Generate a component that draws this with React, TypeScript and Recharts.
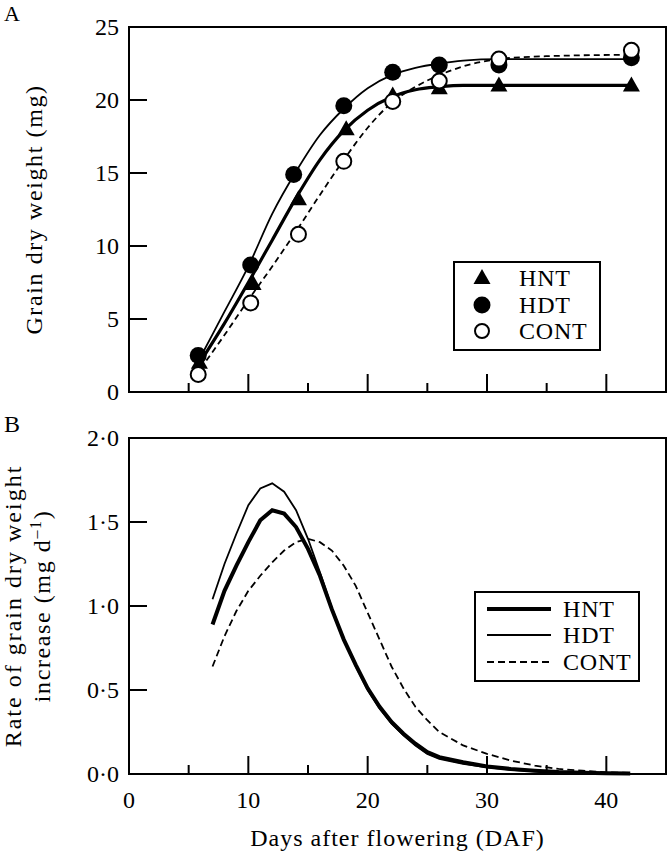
import {
  ComposedChart,
  Line,
  Scatter,
  XAxis,
  YAxis,
  ReferenceArea,
  Legend
} from 'recharts'

// Panel A: sampled grain dry weight (mg)
const daysHNT = [5.9, 10.4, 14.2, 18.2, 22.1, 26, 31, 42.1]
const weightHNT = [2.0, 7.4, 13.2, 18.0, 20.3, 20.8, 21.0, 21.0]
const daysHDT = [5.8, 10.2, 13.8, 18.0, 22.1, 26, 31, 42.1]
const weightHDT = [2.5, 8.7, 14.9, 19.6, 21.9, 22.4, 22.4, 22.9]
const daysCONT = [5.8, 10.2, 14.2, 18.0, 22.1, 26, 31, 42.1]
const weightCONT = [1.2, 6.1, 10.8, 15.8, 19.9, 21.3, 22.8, 23.4]

// Panel A: fitted curves
const fitDays = [6, 8, 10, 12, 14, 16, 18, 20, 22, 24, 26, 28, 31, 35, 42]
const fitHNT = [2.1, 4.7, 7.5, 10.4, 13.3, 15.9, 17.9, 19.3, 20.2, 20.7, 20.9, 21.0, 21.0, 21.0, 21.0]
const fitHDT = [2.4, 5.5, 8.6, 12.2, 15.1, 17.6, 19.4, 20.8, 21.7, 22.2, 22.5, 22.7, 22.8, 22.8, 22.8]
const fitCONT = [1.6, 3.9, 6.3, 8.6, 11.0, 13.5, 15.9, 18.1, 19.8, 20.9, 21.7, 22.3, 22.8, 23.0, 23.1]

// Panel B: rate of grain dry weight increase (mg d-1)
const rateDays = [7, 8, 9, 10, 11, 12, 13, 14, 15, 16, 17, 18, 19, 20, 21, 22, 23, 24, 25, 26, 28, 30, 32, 34, 36, 38, 40, 42]
const rateHNT = [0.89, 1.09, 1.24, 1.38, 1.51, 1.57, 1.55, 1.47, 1.34, 1.18, 0.98, 0.8, 0.65, 0.51, 0.4, 0.31, 0.24, 0.18, 0.13, 0.1, 0.07, 0.045, 0.03, 0.02, 0.012, 0.008, 0.005, 0.003]
const rateHDT = [1.04, 1.25, 1.43, 1.6, 1.7, 1.73, 1.68, 1.57, 1.4, 1.2, 0.99, 0.8, 0.64, 0.5, 0.39, 0.3, 0.23, 0.17, 0.12, 0.09, 0.06, 0.04, 0.025, 0.016, 0.01, 0.006, 0.004, 0.002]
const rateCONT = [0.64, 0.82, 0.97, 1.09, 1.18, 1.26, 1.33, 1.38, 1.4, 1.38, 1.33, 1.24, 1.12, 0.96, 0.8, 0.64, 0.51, 0.4, 0.32, 0.25, 0.17, 0.12, 0.08, 0.05, 0.03, 0.02, 0.01, 0.006]

const xTicks = [0, 5, 10, 15, 20, 25, 30, 35, 40]
const weightTicks = [0, 5, 10, 15, 20, 25]
const rateTicks = [0, 0.5, 1, 1.5, 2]

const FONT = '"Liberation Serif", "DejaVu Serif", serif'
const FS = 24

const pairs = (xs: number[], ys: number[]) => xs.map((x, i) => ({ x, y: ys[i] }))

const XTick = ({ x, y, payload, showLabel }: any) => {
  const v = payload.value
  const major = v % 10 === 0
  return (
    <g>
      {v !== 0 && <line x1={x} x2={x} y1={y} y2={y - (major ? 18 : 9)} stroke="#000" strokeWidth={2} />}
      {showLabel && major && (
        <text x={x} y={y + 34} textAnchor="middle" fontFamily={FONT} fontSize={FS} fill="#000">{v}</text>
      )}
    </g>
  )
}

const YTick = ({ x, y, payload, dot }: any) => {
  const v = payload.value
  const label = dot ? v.toFixed(1).replace('.', '·') : String(v)
  return (
    <g>
      {v !== 0 && <line x1={x} x2={x + 18} y1={y} y2={y} stroke="#000" strokeWidth={2} />}
      <text x={x - 10} y={y} dy="0.35em" textAnchor="end" fontFamily={FONT} fontSize={FS} fill="#000">{label}</text>
    </g>
  )
}

const Triangle = ({ cx, cy }: any) => (
  <polygon points={`${cx},${cy - 9} ${cx - 8.5},${cy + 6} ${cx + 8.5},${cy + 6}`} fill="#000" />
)
const FilledDot = ({ cx, cy }: any) => <circle cx={cx} cy={cy} r={8.5} fill="#000" />
const OpenDot = ({ cx, cy }: any) => <circle cx={cx} cy={cy} r={7.5} fill="#fff" stroke="#000" strokeWidth={2} />

const legendA = () => (
  <svg width={148} height={90} style={{ display: 'block' }}>
    <rect x={1} y={1} width={146} height={88} fill="#fff" stroke="#000" strokeWidth={2} />
    <polygon points="29,8 20.5,23 37.5,23" fill="#000" />
    <circle cx={29} cy={44} r={8.5} fill="#000" />
    <circle cx={29} cy={70} r={7} fill="#fff" stroke="#000" strokeWidth={2} />
    {['HNT', 'HDT', 'CONT'].map((t, i) => (
      <text key={t} x={66} y={[17, 44, 70][i]} dy="0.35em" fontFamily={FONT} fontSize={FS} letterSpacing={0.8} fill="#000">{t}</text>
    ))}
  </svg>
)

const legendB = () => (
  <svg width={166} height={91} style={{ display: 'block' }}>
    <rect x={1} y={1} width={164} height={89} fill="#fff" stroke="#000" strokeWidth={2} />
    <line x1={13} x2={77} y1={18} y2={18} stroke="#000" strokeWidth={4} />
    <line x1={13} x2={77} y1={44} y2={44} stroke="#000" strokeWidth={2} />
    <line x1={13} x2={77} y1={71} y2={71} stroke="#000" strokeWidth={2} strokeDasharray="7 4" />
    {['HNT', 'HDT', 'CONT'].map((t, i) => (
      <text key={t} x={89} y={[18, 44, 71][i]} dy="0.35em" fontFamily={FONT} fontSize={FS} letterSpacing={0.8} fill="#000">{t}</text>
    ))}
  </svg>
)

const App = () => {
  return (
    <div style={{ width: 668, height: 853, background: '#fff', fontFamily: FONT }}>
      <style>{'body{margin:0}'}</style>
      {/* Panel A */}
      <ComposedChart width={668} height={410} margin={{ top: 27, right: 2, bottom: 0, left: 0 }}>
        <XAxis
          dataKey="x"
          type="number"
          domain={[0, 45]}
          ticks={xTicks}
          height={18}
          tickSize={0}
          tickMargin={0}
          axisLine={{ stroke: '#000', strokeWidth: 2 }}
          tickLine={false}
          tick={<XTick showLabel={false} />}
          allowDataOverflow
        />
        <YAxis
          dataKey="y"
          type="number"
          domain={[0, 25]}
          ticks={weightTicks}
          width={129}
          tickSize={0}
          tickMargin={0}
          axisLine={{ stroke: '#000', strokeWidth: 2 }}
          tickLine={false}
          tick={<YTick />}
          label={({ viewBox }: any) => (
            <g>
              <text x={4} y={20.5} fontFamily={FONT} fontSize={22} fill="#000">A</text>
              <text
                transform={`translate(33.3, ${viewBox.y + viewBox.height / 2}) rotate(-90)`}
                textAnchor="middle"
                dy="0.35em"
                fontFamily={FONT}
                fontSize={FS}
                letterSpacing={1.6}
                fill="#000"
              >
                Grain dry weight (mg)
              </text>
            </g>
          )}
        />
        <ReferenceArea x1={0} x2={45} y1={0} y2={25} fill="none" stroke="#000" strokeWidth={2} fillOpacity={0} />
        <Line data={pairs(fitDays, fitCONT)} dataKey="y" type="monotone" stroke="#000" strokeWidth={1.8} strokeDasharray="6 4" dot={false} isAnimationActive={false} />
        <Line data={pairs(fitDays, fitHDT)} dataKey="y" type="monotone" stroke="#000" strokeWidth={1.8} dot={false} isAnimationActive={false} />
        <Line data={pairs(fitDays, fitHNT)} dataKey="y" type="monotone" stroke="#000" strokeWidth={3.2} dot={false} isAnimationActive={false} />
        <Scatter data={pairs(daysHNT, weightHNT)} shape={<Triangle />} isAnimationActive={false} />
        <Scatter data={pairs(daysHDT, weightHDT)} shape={<FilledDot />} isAnimationActive={false} />
        <Scatter data={pairs(daysCONT, weightCONT)} shape={<OpenDot />} isAnimationActive={false} />
        <Legend
          layout="horizontal"
          verticalAlign="middle"
          align="center"
          content={legendA}
          wrapperStyle={{ left: 453, top: 261, width: 148, height: 90 }}
        />
      </ComposedChart>

      {/* Panel B */}
      <ComposedChart width={668} height={443} margin={{ top: 28, right: 2, bottom: 0, left: 0 }}>
        <XAxis
          dataKey="x"
          type="number"
          domain={[0, 45]}
          ticks={xTicks}
          height={79}
          tickSize={0}
          tickMargin={0}
          axisLine={{ stroke: '#000', strokeWidth: 2 }}
          tickLine={false}
          tick={<XTick showLabel />}
          allowDataOverflow
          label={({ viewBox }: any) => (
            <text
              x={viewBox.x + viewBox.width / 2}
              y={viewBox.y + 72}
              textAnchor="middle"
              fontFamily={FONT}
              fontSize={FS}
              letterSpacing={1}
              fill="#000"
            >
              Days after flowering (DAF)
            </text>
          )}
        />
        <YAxis
          dataKey="y"
          type="number"
          domain={[0, 2]}
          ticks={rateTicks}
          width={129}
          tickSize={0}
          tickMargin={0}
          axisLine={{ stroke: '#000', strokeWidth: 2 }}
          tickLine={false}
          tick={<YTick dot />}
          label={({ viewBox }: any) => {
            const cy = viewBox.y + viewBox.height / 2
            return (
              <g>
                <text x={4} y={21.7} fontFamily={FONT} fontSize={FS} fill="#000">B</text>
                <text
                  transform={`translate(13, ${cy}) rotate(-90)`}
                  textAnchor="middle"
                  dy="0.35em"
                  fontFamily={FONT}
                  fontSize={FS}
                  letterSpacing={2}
                  fill="#000"
                >
                  Rate of grain dry weight
                </text>
                <text
                  transform={`translate(41.5, ${cy}) rotate(-90)`}
                  textAnchor="middle"
                  dy="0.35em"
                  fontFamily={FONT}
                  fontSize={FS}
                  letterSpacing={1.6}
                  fill="#000"
                >
                  increase (mg d<tspan dy={-9} fontSize={16}>–1</tspan><tspan dy={9}>)</tspan>
                </text>
              </g>
            )
          }}
        />
        <ReferenceArea x1={0} x2={45} y1={0} y2={2} fill="none" stroke="#000" strokeWidth={2} fillOpacity={0} />
        <Line data={pairs(rateDays, rateCONT)} dataKey="y" type="linear" stroke="#000" strokeWidth={1.8} strokeDasharray="7 4" dot={false} isAnimationActive={false} />
        <Line data={pairs(rateDays, rateHDT)} dataKey="y" type="linear" stroke="#000" strokeWidth={1.8} dot={false} isAnimationActive={false} />
        <Line data={pairs(rateDays, rateHNT)} dataKey="y" type="linear" stroke="#000" strokeWidth={4} dot={false} isAnimationActive={false} />
        <Legend
          layout="horizontal"
          verticalAlign="middle"
          align="center"
          content={legendB}
          wrapperStyle={{ left: 474, top: 181, width: 166, height: 91 }}
        />
      </ComposedChart>
    </div>
  )
}

export default App
